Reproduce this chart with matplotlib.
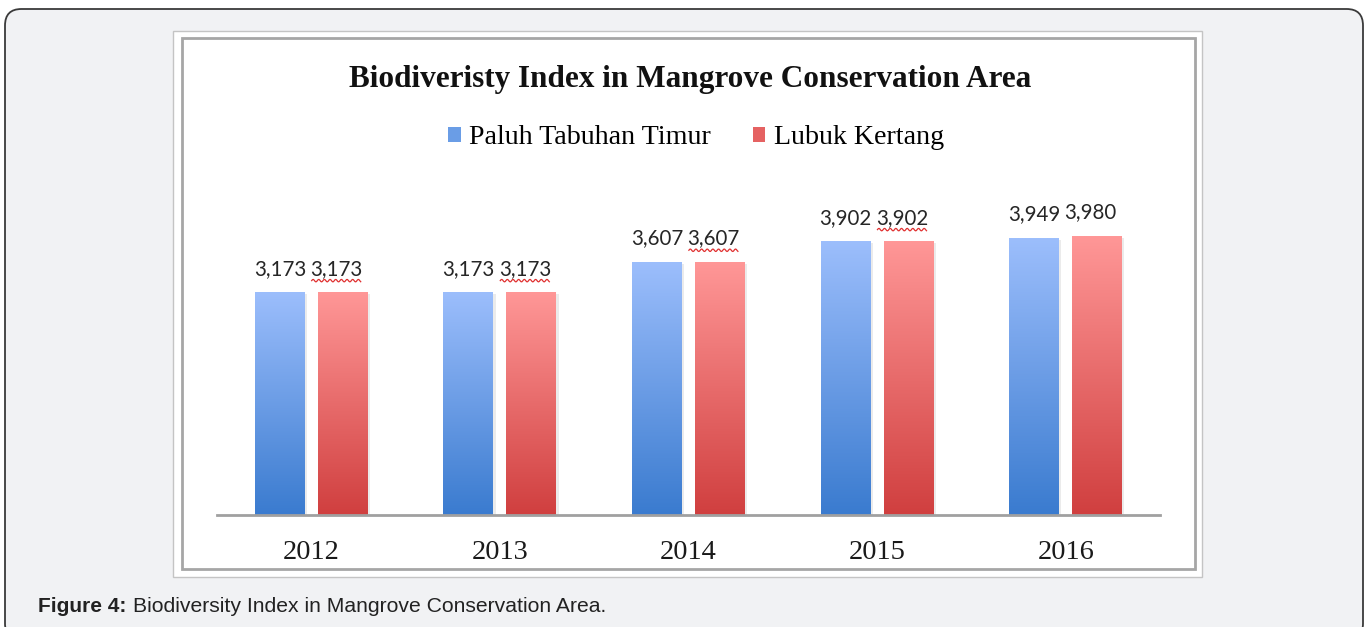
import numpy as np
import matplotlib
matplotlib.use('Agg')
import matplotlib.pyplot as plt
from matplotlib.patches import FancyBboxPatch, Rectangle, Patch

# Données
annees = ['2012', '2013', '2014', '2015', '2016']
paluh = [3.173, 3.173, 3.607, 3.902, 3.949]
lubuk = [3.173, 3.173, 3.607, 3.902, 3.980]
series = ['Paluh Tabuhan Timur', 'Lubuk Kertang']
soulignes = [True, True, True, True, False]  # correcteur d'orthographe sous les labels rouges

W, H = 1367, 627
BLEU_HAUT, BLEU_BAS = '#9cbefc', '#3a7bcf'
ROUGE_HAUT, ROUGE_BAS = '#ff9797', '#d03f3f'


def fx(px):
    return px / W


def fy(py):
    return 1 - py / H


def degrade(c_haut, c_bas, n=256):
    a = np.array(matplotlib.colors.to_rgb(c_haut))
    b = np.array(matplotlib.colors.to_rgb(c_bas))
    t = np.linspace(0, 1, n)[:, None]
    return (a * (1 - t) + b * t)[:, None, :]


fig = plt.figure(figsize=(W / 100, H / 100), dpi=100)
fig.patch.set_facecolor('white')

# cadre arrondi de la page
fig.patches.append(FancyBboxPatch((fx(5), fy(640)), fx(1358), fy(9) - fy(640),
                                  boxstyle='round,pad=0,rounding_size=0.012',
                                  transform=fig.transFigure, facecolor='#f1f2f4',
                                  edgecolor='#3a3a3a', linewidth=1.3, mutation_aspect=2.2,
                                  zorder=-10))
# image du graphique
fig.patches.append(Rectangle((fx(173), fy(577)), fx(1202) - fx(173), fy(31) - fy(577),
                             transform=fig.transFigure, facecolor='white',
                             edgecolor='#c4c4c4', linewidth=1, zorder=-9))
fig.patches.append(Rectangle((fx(182), fy(569)), fx(1195) - fx(182), fy(38) - fy(569),
                             transform=fig.transFigure, facecolor='white',
                             edgecolor='#a6a6a6', linewidth=2, zorder=-8))

ax = fig.add_axes([fx(217), fy(515), fx(1160) - fx(217), fy(165) - fy(515)])
ax.set_facecolor('none')

x = np.arange(len(annees))
larg = 0.265
dec = 0.167
for vals, off, ch, cb in [(paluh, -dec, BLEU_HAUT, BLEU_BAS), (lubuk, dec, ROUGE_HAUT, ROUGE_BAS)]:
    for xi, v in zip(x, vals):
        # ombre légère
        ax.add_patch(Rectangle((xi + off - larg / 2 + 0.012, 0), larg, v - 0.02,
                               facecolor='#000000', alpha=0.08, edgecolor='none', zorder=1))
        ax.imshow(degrade(ch, cb), extent=(xi + off - larg / 2, xi + off + larg / 2, 0, v),
                  aspect='auto', zorder=2, interpolation='bilinear')

ax.set_xlim(-0.5, len(annees) - 0.5)
ax.set_ylim(0, 5)

for xi, v in zip(x, paluh):
    ax.text(xi - dec, v + 0.2, '{:.3f}'.format(v).replace('.', ','), ha='center',
            va='bottom', fontsize=14.8, family='Lato', color='#262626')
for xi, v, s in zip(x, lubuk, soulignes):
    xc = xi + dec - 0.035
    ax.text(xc, v + 0.2, '{:.3f}'.format(v).replace('.', ','), ha='center',
            va='bottom', fontsize=14.8, family='Lato', color='#262626')
    if s:
        xs = np.linspace(xc - 0.13, xc + 0.13, 60)
        ys = v + 0.175 + 0.018 * np.sin((xs - xs[0]) * 2 * np.pi / 0.03)
        ax.plot(xs, ys, color='#e03030', lw=0.9, zorder=3)

for s in ['top', 'right', 'left']:
    ax.spines[s].set_visible(False)
ax.spines['bottom'].set_color('#a0a0a0')
ax.spines['bottom'].set_linewidth(2)
ax.set_yticks([])
ax.set_xticks(x)
ax.set_xticklabels(annees, family='Liberation Serif', fontsize=20.5, color='#1a1a1a')
ax.tick_params(axis='x', length=0, pad=18)

fig.text(fx(690), fy(79), 'Biodiveristy Index in Mangrove Conservation Area', ha='center',
         va='center', family='Liberation Serif', fontweight='bold', fontsize=22.5, color='#111111')

poignees = [Patch(facecolor='#6a9de6', edgecolor='none'), Patch(facecolor='#e56262', edgecolor='none')]
fig.legend(poignees, series, loc='center', bbox_to_anchor=(fx(696), fy(138)), ncol=2,
           frameon=False, handlelength=0.45, handleheight=0.45, handletextpad=0.3,
           columnspacing=1.5, prop={'family': 'Liberation Serif', 'size': 20.2})

fig.text(fx(38), fy(607), 'Figure 4:', ha='left', va='center', family='Liberation Sans',
         fontweight='bold', fontsize=15, color='#222222')
fig.text(fx(133), fy(607), 'Biodiversity Index in Mangrove Conservation Area.', ha='left',
         va='center', family='Liberation Sans', fontsize=15.2, color='#222222')

fig.savefig('out.png', dpi=100)
